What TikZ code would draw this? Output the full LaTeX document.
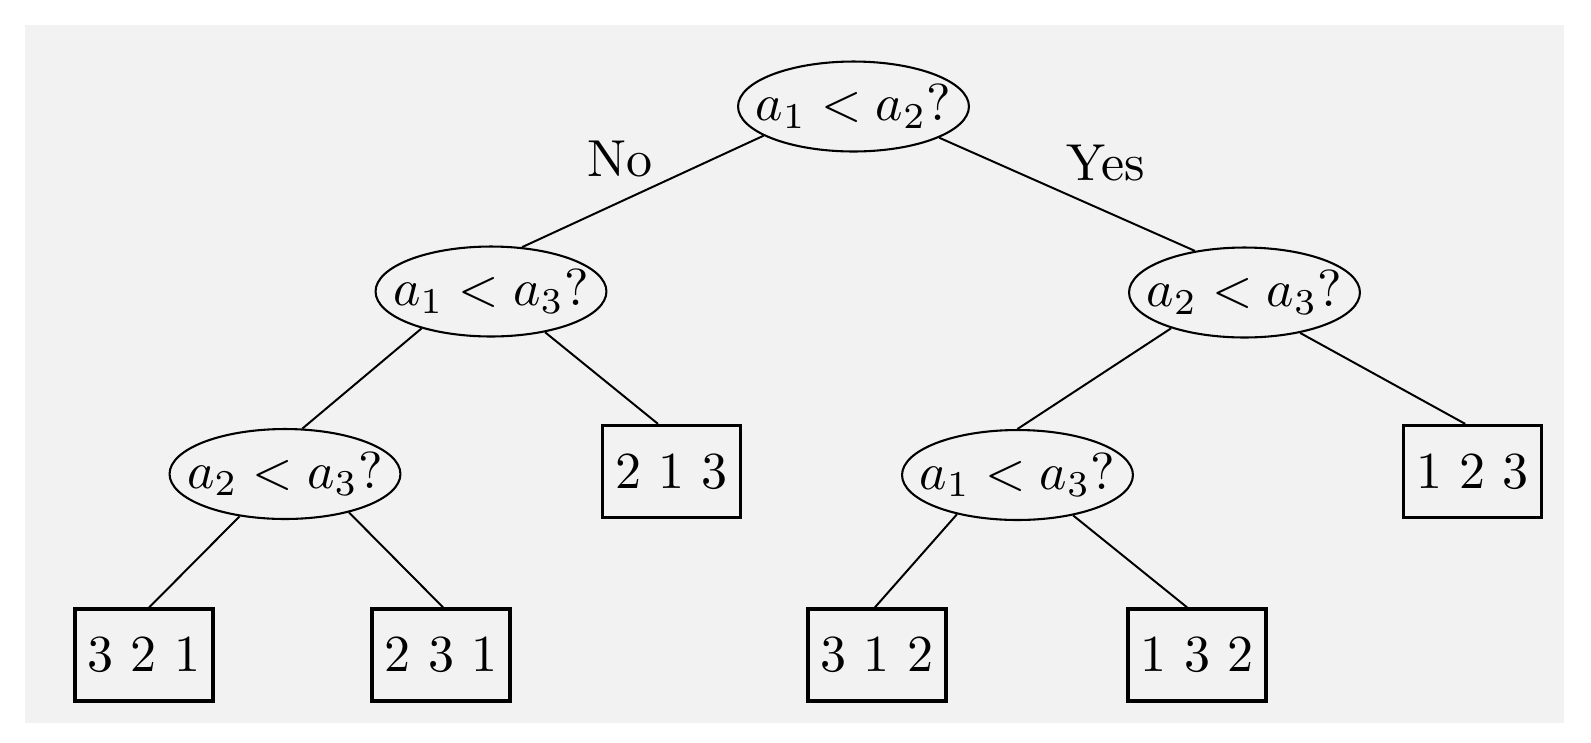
\documentclass[tikz,border=0pt]{standalone}
\usetikzlibrary{shapes.geometric}
\definecolor{bggray}{HTML}{F2F2F2}
\tikzset{
  qnode/.style={ellipse, draw, line width=0.4pt, inner sep=0pt, minimum width=44.4pt, minimum height=17.3pt},
  leafbox/.style={rectangle, draw, line width=0.62pt, inner sep=0pt, minimum width=26.5pt, minimum height=17.7pt},
  edge/.style={line width=0.38pt},
  branchlabel/.style={inner sep=0pt}
}
\begin{document}
\begin{tikzpicture}[x=0.1923pt, y=-0.1923pt]
\useasboundingbox (0,0) rectangle (1591,742);
\fill[bggray] (25,25) rectangle (1564,723);
% question nodes
\node[qnode, label={center:$a_1<a_2?$}] (root) at (853.5,106.5) {};
\node[qnode, label={center:$a_1<a_3?$}] (l1) at (491,291.5) {};
\node[qnode, label={center:$a_2<a_3?$}] (r1) at (1244.5,292.5) {};
\node[qnode, label={center:$a_2<a_3?$}] (ll) at (285,474) {};
\node[qnode, label={center:$a_1<a_3?$}] (rl) at (1017.5,475) {};
% leaves
\node[leafbox] (b213) at (671.5,471.5) {2 1 3};
\node[leafbox] (b123) at (1472.5,471.5) {1 2 3};
\node[leafbox] (b321) at (144,655) {3 2 1};
\node[leafbox] (b231) at (441,655) {2 3 1};
\node[leafbox] (b312) at (877,655) {3 1 2};
\node[leafbox] (b132) at (1197,655) {1 3 2};
% labels
\node[branchlabel] (no) at (620,159) {No};
\node[branchlabel] (yes) at (1105.5,163.5) {Yes};
% edges
\draw[edge] (root.198) -- (l1.55);
\draw[edge] (root.340) -- (r1.140);
\draw[edge] (l1.208) -- (ll.69);
\draw[edge] (l1.323) -- ([xshift=-2.6pt]b213.north);
\draw[edge] (r1.206) -- (rl.90);
\draw[edge] (r1.324) -- ([xshift=-1.4pt]b123.north);
\draw[edge] (ll.223) -- ([xshift=1pt]b321.north);
\draw[edge] (ll.329) -- ([xshift=0.4pt]b231.north);
\draw[edge] (rl.213) -- ([xshift=-0.4pt]b312.north);
\draw[edge] (rl.324) -- ([xshift=-1.9pt]b132.north);
\end{tikzpicture}
\end{document}
